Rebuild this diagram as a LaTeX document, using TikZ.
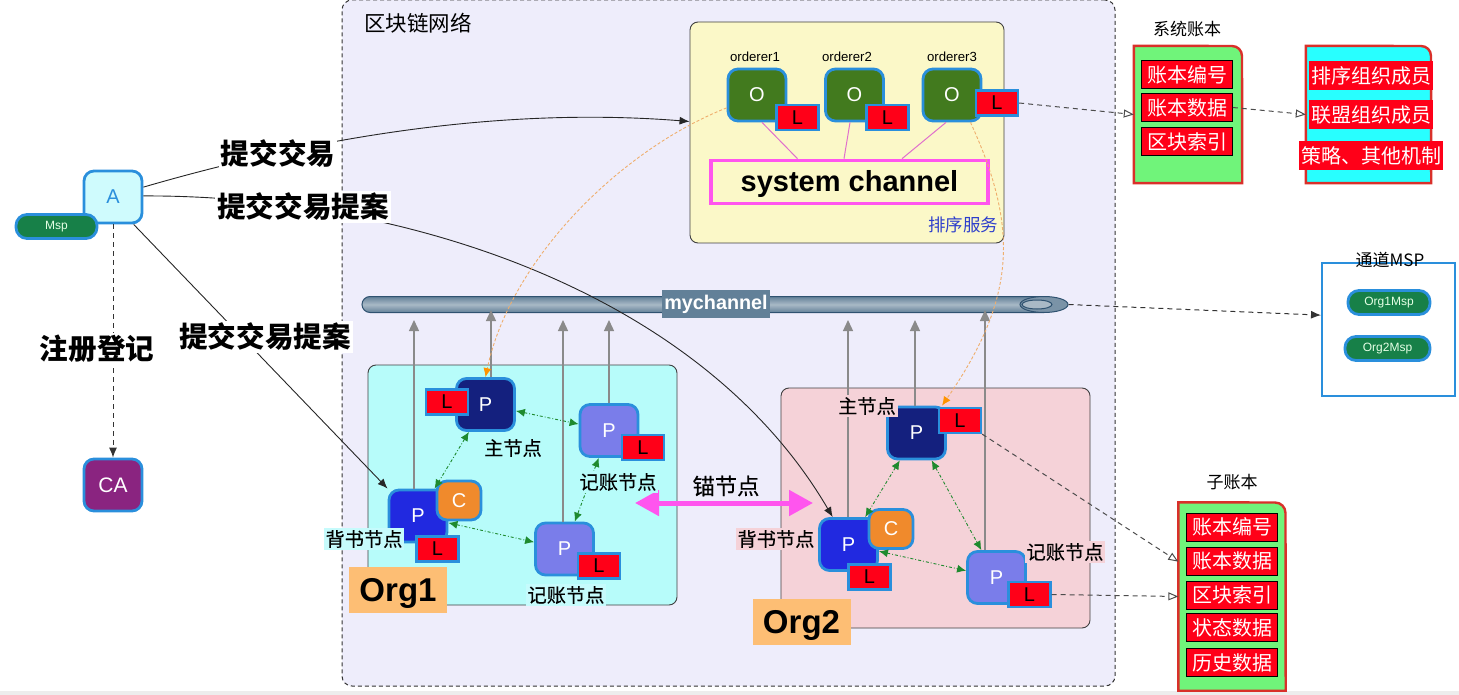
\documentclass[tikz,border=0pt]{standalone}
\usepackage{fontspec}
\setmainfont{Liberation Sans}
\newfontfamily\cjk{Noto Sans CJK SC}
\newfontfamily\cjkm[FakeBold=0.35]{Noto Sans CJK SC}
\usetikzlibrary{arrows.meta,positioning,shapes.geometric,calc}
\definecolor{edgeblue}{HTML}{2A8FDC}
\definecolor{ledgerred}{HTML}{FF0018}
\definecolor{darkp}{HTML}{14207E}
\definecolor{midp}{HTML}{2129E0}
\definecolor{lightp}{HTML}{7A7DEA}
\definecolor{flowgreen}{HTML}{1E8A2E}
\definecolor{pinkline}{HTML}{FF55EE}
\definecolor{pillgreen}{HTML}{178048}
\definecolor{tubeblue}{HTML}{628098}
\definecolor{tubeedge}{HTML}{2F5270}
\definecolor{paleorange}{HTML}{EFAE6C}
\definecolor{stemgray}{HTML}{8A8A8A}
\definecolor{linkpink}{HTML}{E070CC}
\begin{document}
\begin{tikzpicture}[
  x=1pt,y=-1pt,
  area/.style={draw=black!75,line width=0.9pt,rounded corners=8pt,inner sep=0pt},
  sqnode/.style={draw=edgeblue,line width=2.8pt,rounded corners=10pt,inner sep=0pt,minimum width=58pt,minimum height=52pt,text=white,font=\fontsize{20}{24}\selectfont},
  onode/.style={sqnode,fill={rgb,255:red,66;green,122;blue,30}},
  lnode/.style={draw=edgeblue,line width=2.2pt,fill=ledgerred,inner sep=0pt,minimum width=42pt,minimum height=25pt,text=black,font=\fontsize{20}{22}\selectfont},
  cnode/.style={sqnode,fill={rgb,255:red,240;green,138;blue,44},minimum width=44pt,minimum height=39pt},
  pill/.style={draw=edgeblue,line width=2.8pt,fill=pillgreen,rounded corners=11pt,inner sep=0pt,minimum height=24pt,text=white!90!green,font=\fontsize{12}{14}\selectfont},
  cell/.style={draw=black,line width=0.6pt,fill=ledgerred,inner sep=0pt,minimum width=91pt,minimum height=28pt,text=white,font={\cjk\fontsize{20}{24}\selectfont}},
  cellb/.style={fill=ledgerred,inner sep=0pt,minimum height=29pt,text=white,font={\cjk\fontsize{20}{24}\selectfont}},
  ledger/.style={draw={rgb,255:red,217;green,48;blue,42},line width=2.4pt},
  big/.style={fill=white,inner sep=2pt,font={\cjk\bfseries\fontsize{28.6}{32}\selectfont}},
  tag/.style={inner sep=2pt,font={\cjkm\fontsize{19.2}{23}\selectfont}},
  title/.style={inner sep=0pt,font={\cjk\fontsize{17}{20}\selectfont}},
  orgtag/.style={fill={rgb,255:red,253;green,190;blue,116},inner sep=0pt,minimum width=98pt,minimum height=46pt,text height=31pt,text depth=7.6pt,font=\bfseries\fontsize{33}{36}\selectfont},
  msg/.style={-{Latex[length=10pt,width=8pt]},line width=0.9pt,black!85},
  dashmsg/.style={-{Latex[length=10pt,width=8pt]},line width=1pt,black!80,dash pattern=on 5pt off 4pt},
  openmsg/.style={-{Triangle[open,length=10pt,width=8pt]},line width=1pt,black!70,dash pattern=on 5pt off 4pt},
  orangemsg/.style={-{Latex[length=9pt,width=8pt,color=orange!85!yellow]},line width=0.9pt,paleorange,dash pattern=on 3pt off 2pt},
  upmsg/.style={-{Triangle[length=11pt,width=10pt]},line width=1.3pt,stemgray},
  peer/.style={{Latex[length=9pt,width=8pt]}-{Latex[length=9pt,width=8pt]},line width=0.9pt,flowgreen,dash dot},
  chanlink/.style={line width=1pt,linkpink}
]
\useasboundingbox (0,0) rectangle (1459,695);
\fill[black!7] (0,691) rectangle (1459,695);

\node[draw=black!80,line width=1pt,dash pattern=on 4pt off 3pt,rounded corners=10pt,fill={rgb,255:red,238;green,237;blue,251},inner sep=0pt,minimum width=773pt,minimum height=686pt] (net) at (728.5,343) {};
\node[anchor=west,inner sep=0pt,font={\cjk\fontsize{21.5}{24}\selectfont}] (nettitle) at (364,23) {区块链网络};

\node[area,fill={rgb,255:red,251;green,248;blue,200},minimum width=314pt,minimum height=221pt] (ordersvc) at (847,132.5) {};
\node[area,fill={rgb,255:red,183;green,252;blue,250},minimum width=309pt,minimum height=240pt] (org1box) at (522.5,485) {};
\node[area,fill={rgb,255:red,245;green,210;blue,216},minimum width=309pt,minimum height=240pt] (org2box) at (935.5,508) {};

\node[draw=tubeedge,line width=1pt,rounded corners=8pt,inner sep=0pt,minimum width=690pt,minimum height=16pt,top color=tubeblue,bottom color=tubeblue,middle color=tubeblue!55] (tube) at (707,304.5) {};
\node[draw=tubeedge,line width=1pt,ellipse,fill=tubeblue!85,inner sep=0pt,minimum width=48pt,minimum height=16pt] (tubeend) at (1044,304.5) {};
\node[draw=tubeedge,line width=1pt,ellipse,fill=tubeblue!55,inner sep=0pt,minimum width=30pt,minimum height=9pt] (tubehole) at (1037,304.5) {};

\node[sqnode,onode] (o1) at (757,95) {O};
\node[sqnode,onode] (o2) at (854.5,95) {O};
\node[sqnode,onode] (o3) at (952,95) {O};
\node[lnode] (l1) at (797.5,117.5) {L};
\node[lnode] (l2) at (887.5,117.5) {L};
\node[lnode] (l3) at (997,103) {L};
\node[draw=pinkline,line width=3.6pt,inner sep=0pt,minimum width=277pt,minimum height=43pt,text height=26pt,text depth=6pt,font=\bfseries\fontsize{29}{32}\selectfont] (syschan) at (849.5,182) {system channel};

\node[sqnode,fill=darkp] (p1m) at (485.5,404.5) {P};
\node[lnode] (l1m) at (447,402) {L};
\node[sqnode,fill=midp] (p1e) at (418,516) {P};
\node[cnode] (c1) at (459,500.5) {C};
\node[lnode] (l1e) at (437.5,549) {L};
\node[sqnode,fill=lightp] (p1r) at (609,430.5) {P};
\node[lnode] (l1r) at (643,447.5) {L};
\node[sqnode,fill=lightp] (p1b) at (564.5,549) {P};
\node[lnode] (l1b) at (599,566) {L};

\node[sqnode,fill=darkp] (p2m) at (916.5,433) {P};
\node[lnode] (l2m) at (960,420.5) {L};
\node[sqnode,fill=midp] (p2e) at (848.5,544.5) {P};
\node[cnode] (c2) at (891,529) {C};
\node[lnode] (l2e) at (869.5,577) {L};
\node[sqnode,fill=lightp] (p2r) at (996.5,577.5) {P};
\node[lnode] (l2r) at (1029.5,594.5) {L};

\node[sqnode,fill={rgb,255:red,207;green,251;blue,253},text=edgeblue] (appa) at (113,197) {A};
\node[pill,minimum width=81pt] (appmsp) at (56.5,226.5) {Msp};
\node[sqnode,fill={rgb,255:red,138;green,36;blue,128},font=\fontsize{21}{24}\selectfont] (ca) at (113,485) {CA};

\node[inner sep=0pt,minimum width=108pt,minimum height=137pt] (sysledger) at (1188,114.5) {};
\draw[ledger,fill={rgb,255:red,112;green,244;blue,122}] (sysledger.south west) -- (sysledger.north west) -- (1232,46) to[out=0,in=90] (1242,56) -- (sysledger.south east) -- cycle;
\node[cell] (sysno) at (1187,74.5) {账本编号};
\node[cell] (sysdata) at (1187,107.5) {账本数据};
\node[cell] (sysidx) at (1187,141.5) {区块索引};

\node[inner sep=0pt,minimum width=125pt,minimum height=137pt] (membox) at (1368.5,114.5) {};
\draw[ledger,fill={rgb,255:red,40;green,255;blue,255}] (membox.south west) -- (membox.north west) -- (1421,46) to[out=0,in=90] (1431,56) -- (membox.south east) -- cycle;
\node[cellb,minimum width=124pt] (memord) at (1371,75.5) {排序组织成员};
\node[cellb,minimum width=124pt] (memcon) at (1371,114.5) {联盟组织成员};
\node[cellb,minimum width=144pt] (mempol) at (1371,155.5) {策略、其他机制};

\node[inner sep=0pt,minimum width=107pt,minimum height=188pt] (subledger) at (1232,596.5) {};
\draw[ledger,fill={rgb,255:red,112;green,244;blue,122}] (subledger.south west) -- (subledger.north west) -- (1275,502.5) to[out=0,in=90] (1285.5,513) -- (subledger.south east) -- cycle;
\node[cell] (subno) at (1232,527) {账本编号};
\node[cell] (subdata) at (1232,561) {账本数据};
\node[cell] (subidx) at (1232,595) {区块索引};
\node[cell] (substate) at (1232,627.5) {状态数据};
\node[cell] (subhist) at (1232,662.5) {历史数据};

\node[draw=edgeblue,line width=2pt,fill=white,inner sep=0pt,minimum width=133pt,minimum height=133pt] (mspbox) at (1388.5,329.5) {};
\node[pill,minimum width=82pt] (org1msp) at (1389,302.5) {Org1Msp};
\node[pill,minimum width=85pt] (org2msp) at (1387.5,348.5) {Org2Msp};

\coordinate (up1) at (414,320);
\coordinate (up2) at (491,310);
\coordinate (up3) at (563,320);
\coordinate (up4) at (609,320);
\coordinate (up5) at (848,320);
\coordinate (up6) at (915,320);
\coordinate (up7) at (985,310);
\draw[upmsg] (up1 |- p1e.north) -- (up1);
\draw[upmsg] (up2 |- p1m.north) -- (up2);
\draw[upmsg] (up3 |- p1b.north) -- (up3);
\draw[upmsg] (up4 |- p1r.north) -- (up4);
\draw[upmsg] (up5 |- p2e.north) -- (up5);
\draw[upmsg] (up6 |- p2m.north) -- (up6);
\draw[upmsg] (up7 |- p2r.north) -- (up7);

\draw[chanlink] ([xshift=5pt]o1.south) -- ([xshift=-52pt]syschan.north);
\draw[chanlink] ([xshift=-4.5pt]o2.south) -- ([xshift=-5.5pt]syschan.north);
\draw[chanlink] ([xshift=-6pt]o3.south) -- ([xshift=52.5pt]syschan.north);

\draw[peer] (p1m) -- (p1r);
\draw[peer] (p1m) -- (p1e);
\draw[peer] (p1e) -- (p1b);
\draw[peer] (p1r) -- (p1b);
\draw[peer] (p2m) -- (p2e);
\draw[peer] (p2m) -- (p2r);
\draw[peer] (p2e) -- (p2r);

\draw[msg] (appa.18) .. controls (340,130) and (520,108) .. (ordersvc.176);
\draw[msg] (appa.2) .. controls (400,195) and (700,290) .. (p2e.120);
\draw[msg] (appa.-53) -- (p1e.north west);
\draw[dashmsg] (appa) -- (ca);
\draw[orangemsg] (o1.203) .. controls (620,150) and (510,260) .. (p1m.north);
\draw[orangemsg] (o3.-56) .. controls (1020,230) and (1015,300) .. (p2m.47);
\draw[dashmsg] (tubeend.east) -- (mspbox.168);
\draw[openmsg] (l3.east) -- (sysledger.west);
\draw[openmsg] (sysdata.east) -- (membox.west);
\draw[openmsg] (l2m.south east) -- (subledger.147);
\draw[openmsg] (l2r.east) -- (subledger.west);

\coordinate (anchorl) at (635,503);
\coordinate (anchorr) at (813,503);
\draw[{Triangle[length=24pt,width=25pt]}-{Triangle[length=24pt,width=25pt]},line width=5pt,pinkline] (anchorl) -- (anchorr);

\node[fill=tubeblue,text=white,inner sep=0pt,minimum width=108pt,minimum height=28pt,font=\bfseries\fontsize{19.8}{22}\selectfont] (chlabel) at (716,304) {mychannel};

\node[big] (submit) at (278,154) {提交交易};
\node[big] (prop1) at (303,207) {提交交易提案};
\node[big] (prop2) at (265,337) {提交交易提案};
\node[big] (register) at (97,349) {注册登记};

\node[inner sep=0pt,font=\fontsize{13.2}{16}\selectfont] (o1name) at (755,57) {orderer1};
\node[inner sep=0pt,font=\fontsize{13.2}{16}\selectfont] (o2name) at (847,57) {orderer2};
\node[inner sep=0pt,font=\fontsize{13.2}{16}\selectfont] (o3name) at (952,57) {orderer3};
\node[inner sep=0pt,text={rgb,255:red,46;green,63;blue,204},font={\cjk\fontsize{17.5}{20}\selectfont}] (ordername) at (963,225) {排序服务};

\node[tag] (main1) at (513,448) {主节点};
\node[tag,fill={rgb,255:red,183;green,252;blue,250}] (rec1a) at (618,482) {记账节点};
\node[tag,fill={rgb,255:red,198;green,251;blue,252}] (end1) at (364,539) {背书节点};
\node[tag,fill={rgb,255:red,198;green,251;blue,252}] (rec1b) at (566,595) {记账节点};
\node[orgtag] (org1tag) at (398,590) {Org1};

\node[tag,fill={rgb,255:red,245;green,210;blue,216}] (main2) at (867,406) {主节点};
\node[tag,fill={rgb,255:red,245;green,210;blue,216}] (end2) at (776,539) {背书节点};
\node[tag,fill={rgb,255:red,245;green,210;blue,216}] (rec2) at (1065,552) {记账节点};
\node[orgtag] (org2tag) at (801.5,621.5) {Org2};

\node[inner sep=0pt,font={\cjkm\fontsize{22.3}{26}\selectfont}] (anchorname) at (726,486) {锚节点};
\node[title] (systitle) at (1187,29) {系统账本};
\node[title] (mspt) at (1390,260) {通道MSP};
\node[title] (subt) at (1232,482) {子账本};
\end{tikzpicture}
\end{document}
